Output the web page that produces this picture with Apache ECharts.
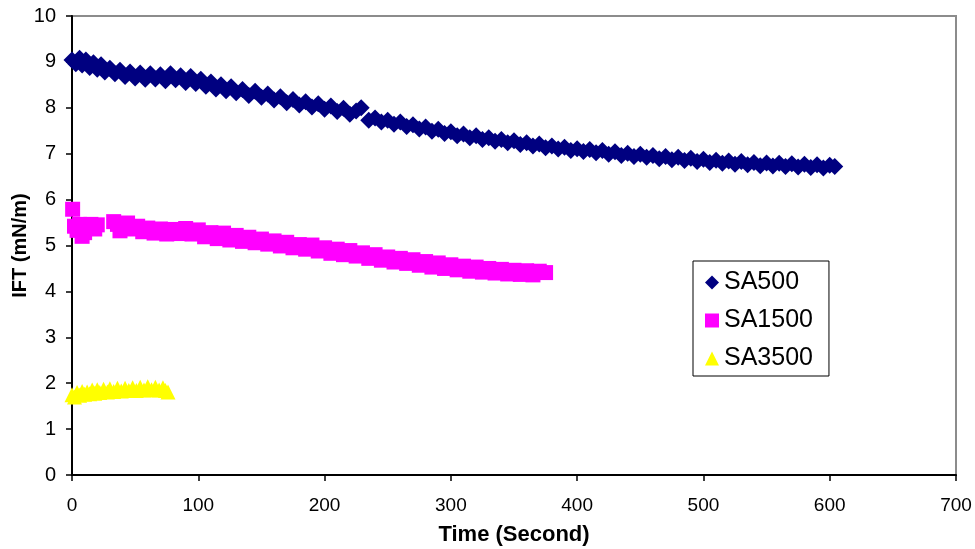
<!DOCTYPE html>
<html>
<head>
<meta charset="utf-8">
<script src="https://cdn.jsdelivr.net/npm/echarts@6/dist/echarts.min.js"></script>
<style>html,body{margin:0;padding:0;background:#fff;}#c{width:975px;height:549px;}</style>
</head>
<body>
<div id="c"></div>
<script>
// ---- Data ----
var seriesNames = ['SA500', 'SA1500', 'SA3500'];
var xTicks = [0, 100, 200, 300, 400, 500, 600, 700];
var yTicks = [0, 1, 2, 3, 4, 5, 6, 7, 8, 9, 10];

var sa500Time = [0,3,6,8,11,14,17,20,23,26,30,34,38,42,46,50,54,58,62,66,70,74,78,82,86,90,94,98,102,106,110,114,118,122,126,130,135,140,145,150,155,160,165,170,175,180,185,190,195,200,205,210,215,220,225,229,235,240,245,250,255,260,265,270,275,280,285,290,295,300,305,310,315,320,325,330,335,340,345,350,355,360,365,370,375,380,385,390,395,400,405,410,415,420,425,430,435,440,445,450,455,460,465,470,475,480,485,490,495,500,505,510,515,520,525,530,535,540,545,550,555,560,565,570,575,580,585,590,595,600,604];
var sa500Ift  = [9.04,8.96,9.08,8.93,9.04,8.88,8.98,8.84,8.94,8.78,8.86,8.74,8.82,8.68,8.78,8.65,8.76,8.62,8.74,8.63,8.72,8.59,8.74,8.61,8.70,8.55,8.68,8.53,8.62,8.47,8.56,8.41,8.50,8.37,8.46,8.33,8.40,8.27,8.36,8.23,8.30,8.17,8.24,8.11,8.18,8.06,8.13,8.02,8.09,7.97,8.04,7.92,7.99,7.86,7.93,8.00,7.73,7.78,7.69,7.73,7.64,7.69,7.59,7.63,7.54,7.58,7.49,7.53,7.44,7.48,7.39,7.43,7.35,7.39,7.31,7.35,7.27,7.31,7.24,7.28,7.20,7.24,7.17,7.21,7.13,7.17,7.10,7.14,7.07,7.11,7.05,7.09,7.02,7.07,6.99,7.04,6.96,7.01,6.94,6.99,6.92,6.96,6.89,6.94,6.87,6.92,6.85,6.90,6.83,6.88,6.81,6.86,6.79,6.84,6.77,6.83,6.76,6.81,6.74,6.80,6.73,6.79,6.72,6.78,6.71,6.77,6.70,6.76,6.69,6.75,6.72];

var sa1500Time = [0.5,2,4,6,8,10,12,15,18,20,33,36,38,41,44,48,52,56,60,65,70,75,80,85,90,95,100,105,110,115,120,125,130,135,140,145,150,155,160,165,170,175,180,185,190,195,200,205,210,215,220,225,230,235,240,245,250,255,260,265,270,275,280,285,290,295,300,305,310,315,320,325,330,335,340,345,350,355,360,365,370,375];
var sa1500Ift  = [5.79,5.42,5.33,5.46,5.20,5.28,5.42,5.46,5.36,5.45,5.52,5.46,5.32,5.43,5.49,5.36,5.42,5.30,5.38,5.27,5.36,5.25,5.35,5.26,5.37,5.25,5.34,5.19,5.28,5.15,5.27,5.12,5.22,5.09,5.18,5.06,5.14,5.03,5.10,4.99,5.07,4.95,5.02,4.92,5.01,4.88,4.95,4.83,4.92,4.80,4.89,4.77,4.84,4.72,4.80,4.68,4.75,4.64,4.72,4.61,4.69,4.57,4.65,4.53,4.62,4.50,4.58,4.47,4.55,4.44,4.53,4.42,4.50,4.40,4.48,4.38,4.46,4.37,4.45,4.36,4.44,4.41];

var sa3500Time = [0,2,4,6,8,10,12,14,16,18,20,22,25,28,30,33,36,39,42,45,48,51,54,57,60,63,66,69,72,74,76];
var sa3500Ift  = [1.75,1.70,1.80,1.74,1.82,1.76,1.81,1.77,1.85,1.78,1.86,1.80,1.87,1.81,1.88,1.82,1.89,1.83,1.89,1.84,1.90,1.84,1.91,1.85,1.92,1.86,1.91,1.85,1.90,1.84,1.81];

function pairs(t, v) { var out = []; for (var i = 0; i < t.length; i++) out.push([t[i], v[i]]); return out; }

var chart = echarts.init(document.getElementById('c'), null, {renderer: 'canvas'});
var FONT = 'Liberation Sans, Arial, sans-serif';
chart.setOption({
  animation: false,
  backgroundColor: '#ffffff',
  textStyle: {fontFamily: FONT, color: '#000'},
  grid: {left: 72, right: 19, top: 16, bottom: 74, containLabel: false, outerBoundsMode: 'none',
         show: true, borderColor: '#8c8c8c', borderWidth: 2, backgroundColor: 'transparent'},
  legend: {
    data: seriesNames,
    orient: 'vertical',
    left: 693, top: 261,
    padding: [9, 16, 5, 12],
    itemGap: 13,
    itemWidth: 14, itemHeight: 14,
    borderColor: '#000', borderWidth: 1,
    backgroundColor: '#fff',
    textStyle: {fontFamily: FONT, fontSize: 25, color: '#000'}
  },
  xAxis: {
    type: 'value', min: xTicks[0], max: xTicks[xTicks.length - 1], interval: 100,
    name: 'Time (Second)', nameLocation: 'middle', nameGap: 49,
    nameTextStyle: {fontFamily: FONT, fontSize: 22, fontWeight: 'bold', color: '#000'},
    axisLine: {lineStyle: {color: '#000', width: 2}},
    axisTick: {show: true, length: 6, inside: false, lineStyle: {color: '#000', width: 1.5}},
    axisLabel: {fontFamily: FONT, fontSize: 19, color: '#000', margin: 21},
    splitLine: {show: false}
  },
  yAxis: {
    type: 'value', min: yTicks[0], max: yTicks[yTicks.length - 1], interval: 1,
    name: 'IFT (mN/m)', nameLocation: 'middle', nameGap: 42, nameRotate: 90, nameMoveOverlap: false,
    nameTextStyle: {fontFamily: FONT, fontSize: 20, fontWeight: 'bold', color: '#000'},
    axisLine: {lineStyle: {color: '#000', width: 2}},
    axisTick: {show: true, length: 6, inside: false, lineStyle: {color: '#000', width: 1.5}},
    axisLabel: {fontFamily: FONT, fontSize: 20, color: '#000', margin: 16},
    splitLine: {show: false}
  },
  series: [
    {name: seriesNames[0], type: 'scatter', symbol: 'diamond', symbolSize: 17,
     itemStyle: {color: '#000080', opacity: 1}, data: pairs(sa500Time, sa500Ift)},
    {name: seriesNames[1], type: 'scatter', symbol: 'rect', symbolSize: 15,
     itemStyle: {color: '#ff00ff', opacity: 1}, data: pairs(sa1500Time, sa1500Ift)},
    {name: seriesNames[2], type: 'scatter', symbol: 'triangle', symbolSize: 15,
     itemStyle: {color: '#ffff00', opacity: 1}, data: pairs(sa3500Time, sa3500Ift)}
  ]
});
</script>
</body>
</html>
